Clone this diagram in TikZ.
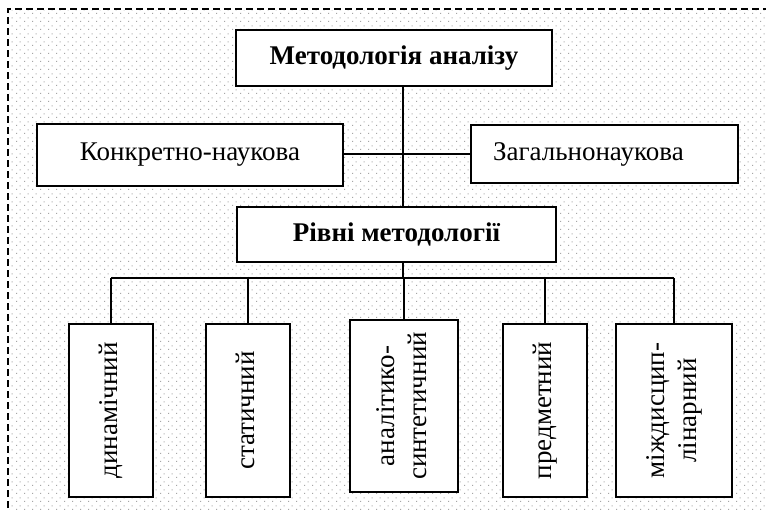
\documentclass[tikz,border=0pt]{standalone}
\usepackage{graphicx}
\usepackage{fontspec}
\setmainfont{Liberation Serif}
\usetikzlibrary{patterns.meta}

% fondo de puntos grises
\tikzdeclarepattern{
  name=puntitos,
  type=uncolored,
  bottom left={(0pt,0pt)},
  top right={(8pt,8pt)},
  tile size={(8pt,8pt)},
  code={
    \fill (0pt,0pt) rectangle (1.3pt,1.3pt);
    \fill (4pt,4pt) rectangle (5.3pt,5.3pt);
  }
}
\newcommand{\vtexto}[1]{\rotatebox{90}{\begin{tabular}{@{}c@{}}#1\end{tabular}}}

\begin{document}
\begin{tikzpicture}[x=1pt,y=-1pt,
    caja/.style={draw,line width=1.7pt,fill=white,inner sep=0pt,
      font=\fontsize{27}{32}\selectfont},
    titulo/.style={caja,font=\fontsize{27}{32}\selectfont\bfseries},
    vcaja/.style={caja,minimum width=84pt,minimum height=173pt},
    enlace/.style={line width=1.5pt}]
        %colores
        \colorlet{puntos}{black!35}

        \useasboundingbox (0,0) rectangle (766,510);
        \clip (0,0) rectangle (766,510);
        \fill[white] (0,0) rectangle (766,510);
        % fondo y marco discontinuo
        \fill[pattern=puntitos,pattern color=puntos] (9,11) rectangle (766,510);
        \draw[line width=1.5pt,dash pattern=on 7pt off 4pt] (8,530) -- (8,9) -- (790,9);

        % cajas de arriba
        \node[titulo,minimum width=316pt,minimum height=56pt] (metod) at (394,58) {Методологія аналізу};
        \node[caja,minimum width=306pt,minimum height=62pt] (konkr) at (190,155) {Конкретно-наукова};
        \node[caja,text width=223pt,align=left,inner xsep=22pt,minimum height=58pt] (zagal) at (604.5,154) {Загальнонаукова};
        \node[titulo,minimum width=319pt,minimum height=55pt] (rivni) at (396.5,234.5) {Рівні методології};

        % cajas verticales
        \node[vcaja] (din) at (111,410.5) {\vtexto{динамічний}};
        \node[vcaja] (stat) at (248,410.5) {\vtexto{статичний}};
        \node[vcaja,minimum width=108pt,minimum height=172pt] (anal) at (404,406) {\vtexto{аналітико-\\синтетичний}};
        \node[vcaja] (pred) at (545,410.5) {\vtexto{предметний}};
        \node[vcaja,minimum width=116pt] (mizh) at (674,410.5) {\vtexto{міждисцип-\\лінарний}};

        % lineas
        \coordinate (bus) at (403,278);
        \draw[enlace] (metod.south -| bus) -- (rivni.north -| bus);
        \draw[enlace] (konkr.east |- zagal.west) -- (zagal.west);
        \draw[enlace] (rivni.south -| bus) -- (bus);
        \draw[enlace] (din.north |- bus) -- (mizh.north |- bus);
        \foreach \n in {din,stat,anal,pred,mizh}
        \draw[enlace] (\n.north |- bus) -- (\n.north);
    \end{tikzpicture}
\end{document}
